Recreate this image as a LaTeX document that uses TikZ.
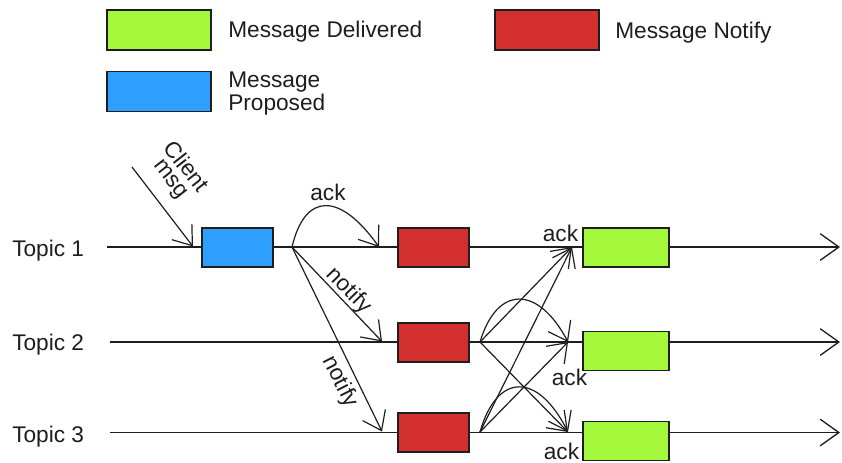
\documentclass[tikz,border=0pt]{standalone}
\usepackage{fontspec}
\setmainfont{Liberation Sans}
\usetikzlibrary{arrows.meta}
\definecolor{cgreen}{HTML}{A4F83C}
\definecolor{cred}{HTML}{D32F2F}
\definecolor{cblue}{HTML}{2E9FFF}
\definecolor{ink}{HTML}{1E1E1E}
\begin{document}
\begin{tikzpicture}[x=0.75pt,y=-0.75pt,
  font=\fontsize{17pt}{13.7pt}\selectfont,
  box/.style={draw=ink, line width=1.1pt, inner sep=0pt, minimum width=53.25pt, minimum height=29.25pt},
  gbox/.style={box, fill=cgreen, minimum width=64.5pt},
  rbox/.style={box, fill=cred},
  bbox/.style={box, fill=cblue},
  lgbox/.style={draw=ink, line width=1.1pt, inner sep=0pt, minimum width=78pt, minimum height=30pt},
  lbl/.style={inner sep=0pt, text=ink},
  tline/.style={draw=ink, line width=1pt, -{Straight Barb[length=14pt,width=20pt,line width=1pt]}},
  arr/.style={draw=ink, line width=0.9pt, -{Straight Barb[length=13pt,width=19pt,line width=0.9pt]}}
]
\useasboundingbox (0,0) rectangle (842,462);

% legend
\node[lgbox, fill=cgreen] (lg) at (159,30) {};
\node[lgbox, fill=cred] (lr) at (547,30) {};
\node[lgbox, fill=cblue] (lb) at (159,91.5) {};
\node[lbl, anchor=base west] (lgt) at (228,37) {Message Delivered};
\node[lbl, anchor=base west] (lrt) at (615,38) {Message Notify};
\node[lbl, anchor=base west, align=left] (lbt) at (228,110) {Message\\Proposed};

% topics
\node[lbl, anchor=base west] (tp1) at (12,256) {Topic 1};
\node[lbl, anchor=base west] (tp2) at (12,350) {Topic 2};
\node[lbl, anchor=base west] (tp3) at (12,442) {Topic 3};

\coordinate (s1) at (107,247);
\coordinate (s2) at (110,342);
\coordinate (s3) at (110,432.5);
\coordinate (f1) at (840,247);
\coordinate (f2) at (840,342);
\coordinate (f3) at (840,432.5);
\draw[tline] (s1) -- (f1);
\draw[tline] (s2) -- (f2);
\draw[tline] (s3) -- (f3);

% boxes
\node[bbox] (b1) at (237.5,247.5) {};
\node[rbox] (r1) at (433.5,247.5) {};
\node[rbox] (r2) at (433.5,342.5) {};
\node[rbox] (r3) at (433.5,432.5) {};
\node[gbox] (g1) at (626,247.5) {};
\node[gbox] (g2) at (626,351) {};
\node[gbox] (g3) at (626,441) {};

% client msg
\coordinate (c0) at (132,167);
\coordinate (c1) at (193,246.5);
\draw[arr] (c0) -- (c1);
\node[lbl, rotate=-52, align=center] (cm) at (178,173) {Client\\msg};

% topic 1 sends
\coordinate (o1) at (292,247);
\coordinate (a1) at (379,247);
\coordinate (n2) at (382,341.5);
\coordinate (n3) at (382,431.5);
\draw[arr] (o1) .. controls (305,192) and (340,192) .. (a1);
\node[lbl, anchor=base] (ack0) at (328,200) {ack};
\draw[arr] (o1) -- (n2);
\draw[arr] (o1) -- (n3);
\node[lbl, rotate=-46] (nt1) at (349,291) {notify};
\node[lbl, rotate=-63] (nt2) at (340,382) {notify};

% acks
\coordinate (o2) at (480,342);
\coordinate (o3) at (480,432);
\coordinate (e1) at (572,247);
\coordinate (e2) at (568,342);
\coordinate (e3) at (568,432);
\draw[arr] (o2) -- (e1);
\draw[arr] (o3) -- (e1);
\draw[arr] (o2) .. controls (497,285) and (538,285) .. (e2);
\draw[arr] (o3) -- (e2);
\draw[arr] (o2) -- (e3);
\draw[arr] (o3) .. controls (497,372) and (538,372) .. (e3);
\node[lbl, anchor=base] (ack1) at (560.5,241) {ack};
\node[lbl, anchor=base] (ack2) at (569.5,385) {ack};
\node[lbl, anchor=base] (ack3) at (561.5,459) {ack};
\end{tikzpicture}
\end{document}
